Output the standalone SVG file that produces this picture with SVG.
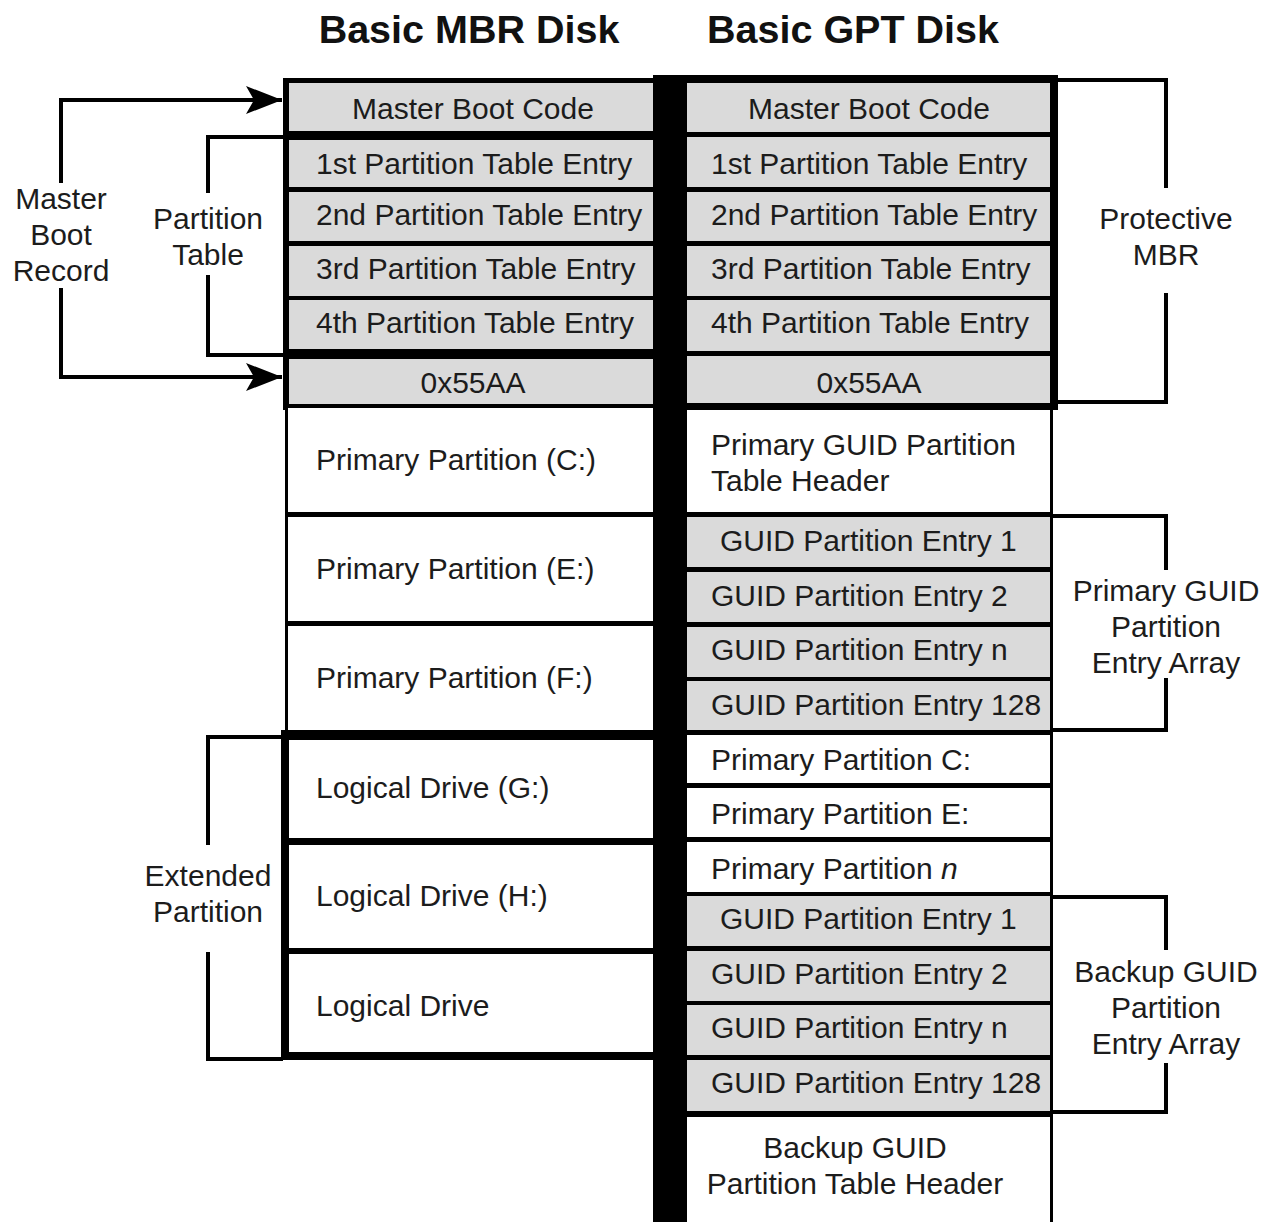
<svg xmlns="http://www.w3.org/2000/svg" width="1270" height="1222" viewBox="0 0 1270 1222">
<style>
.g{fill:#dadada}
.w{fill:#ffffff}
.k{fill:#000000}
.t{font-family:"Liberation Sans",Arial,Helvetica,sans-serif;font-size:30px;fill:#1c1c1c}
.c{text-anchor:middle}
.h{font-weight:bold;font-size:39.5px;fill:#111}
.br{fill:none;stroke:#000;stroke-width:4}
</style>
<defs>
<marker id="ah" markerUnits="userSpaceOnUse" viewBox="0 0 36 28" refX="36" refY="14" markerWidth="36" markerHeight="28" orient="auto">
<path d="M0,0 L36,14 L0,28 L8,14 Z" fill="#000"/>
</marker>
</defs>
<rect x="0" y="0" width="1270" height="1222" fill="#fff"/>

<g id="titles">
<text class="t h c" x="469" y="43">Basic MBR Disk</text>
<text class="t h c" x="853" y="43">Basic GPT Disk</text>
</g>

<g id="frames">
<rect class="k" x="283" y="78" width="372" height="332"/>
<rect class="k" x="285" y="404" width="370" height="332"/>
<rect class="k" x="281" y="730" width="374" height="330"/>
<rect class="k" x="653" y="75" width="33" height="1147"/>
<rect class="k" x="683" y="75" width="375" height="335"/>
<rect class="k" x="683" y="404" width="370" height="818"/>
</g>

<g id="mbr-master-boot-code"><rect class="g" x="289" y="83" width="364" height="48"/><text class="t c" x="473" y="119">Master Boot Code</text></g>
<g id="mbr-pte1"><rect class="g" x="289" y="140" width="364" height="47"/><text class="t" x="316" y="174">1st Partition Table Entry</text></g>
<g id="mbr-pte2"><rect class="g" x="289" y="192" width="364" height="49"/><text class="t" x="316" y="225">2nd Partition Table Entry</text></g>
<g id="mbr-pte3"><rect class="g" x="289" y="246" width="364" height="50"/><text class="t" x="316" y="279">3rd Partition Table Entry</text></g>
<g id="mbr-pte4"><rect class="g" x="289" y="300" width="364" height="49"/><text class="t" x="316" y="333">4th Partition Table Entry</text></g>
<g id="mbr-sig"><rect class="g" x="289" y="359" width="364" height="45"/><text class="t c" x="473" y="393">0x55AA</text></g>
<g id="mbr-primary-c"><rect class="w" x="288" y="408" width="365" height="104"/><text class="t" x="316" y="470">Primary Partition (C:)</text></g>
<g id="mbr-primary-e"><rect class="w" x="288" y="517" width="365" height="104"/><text class="t" x="316" y="579">Primary Partition (E:)</text></g>
<g id="mbr-primary-f"><rect class="w" x="288" y="626" width="365" height="104"/><text class="t" x="316" y="688">Primary Partition (F:)</text></g>
<g id="mbr-logical-g"><rect class="w" x="289" y="740" width="364" height="98"/><text class="t" x="316" y="798">Logical Drive (G:)</text></g>
<g id="mbr-logical-h"><rect class="w" x="289" y="845" width="364" height="103"/><text class="t" x="316" y="906">Logical Drive (H:)</text></g>
<g id="mbr-logical"><rect class="w" x="289" y="954" width="364" height="98"/><text class="t" x="316" y="1016">Logical Drive</text></g>

<g id="gpt-master-boot-code"><rect class="g" x="687" y="83" width="363" height="49"/><text class="t c" x="869" y="119">Master Boot Code</text></g>
<g id="gpt-pte1"><rect class="g" x="687" y="137" width="363" height="50"/><text class="t" x="711" y="174">1st Partition Table Entry</text></g>
<g id="gpt-pte2"><rect class="g" x="687" y="192" width="363" height="49"/><text class="t" x="711" y="225">2nd Partition Table Entry</text></g>
<g id="gpt-pte3"><rect class="g" x="687" y="246" width="363" height="50"/><text class="t" x="711" y="279">3rd Partition Table Entry</text></g>
<g id="gpt-pte4"><rect class="g" x="687" y="300" width="363" height="51"/><text class="t" x="711" y="333">4th Partition Table Entry</text></g>
<g id="gpt-sig"><rect class="g" x="687" y="356" width="363" height="47"/><text class="t c" x="869" y="393">0x55AA</text></g>
<g id="gpt-primary-header"><rect class="w" x="687" y="410" width="363" height="102"/><text class="t" x="711" y="455">Primary GUID Partition</text><text class="t" x="711" y="491">Table Header</text></g>
<g id="gpt-p-entry1"><rect class="g" x="687" y="517" width="363" height="50"/><text class="t" x="720" y="551">GUID Partition Entry 1</text></g>
<g id="gpt-p-entry2"><rect class="g" x="687" y="572" width="363" height="50"/><text class="t" x="711" y="606">GUID Partition Entry 2</text></g>
<g id="gpt-p-entryn"><rect class="g" x="687" y="627" width="363" height="50"/><text class="t" x="711" y="660">GUID Partition Entry n</text></g>
<g id="gpt-p-entry128"><rect class="g" x="687" y="681" width="363" height="49"/><text class="t" x="711" y="715">GUID Partition Entry 128</text></g>
<g id="gpt-primary-c"><rect class="w" x="687" y="735" width="363" height="48"/><text class="t" x="711" y="770">Primary Partition C:</text></g>
<g id="gpt-primary-e"><rect class="w" x="687" y="788" width="363" height="49"/><text class="t" x="711" y="824">Primary Partition E:</text></g>
<g id="gpt-primary-n"><rect class="w" x="687" y="842" width="363" height="50"/><text class="t" x="711" y="879">Primary Partition <tspan font-style="italic">n</tspan></text></g>
<g id="gpt-b-entry1"><rect class="g" x="687" y="896" width="363" height="50"/><text class="t" x="720" y="929">GUID Partition Entry 1</text></g>
<g id="gpt-b-entry2"><rect class="g" x="687" y="951" width="363" height="50"/><text class="t" x="711" y="984">GUID Partition Entry 2</text></g>
<g id="gpt-b-entryn"><rect class="g" x="687" y="1005" width="363" height="50"/><text class="t" x="711" y="1038">GUID Partition Entry n</text></g>
<g id="gpt-b-entry128"><rect class="g" x="687" y="1060" width="363" height="51"/><text class="t" x="711" y="1093">GUID Partition Entry 128</text></g>
<g id="gpt-backup-header"><rect class="w" x="687" y="1117" width="363" height="110"/><text class="t c" x="855" y="1158">Backup GUID</text><text class="t c" x="855" y="1194">Partition Table Header</text></g>

<g id="labels">
<text class="t c" x="61" y="209">Master</text>
<text class="t c" x="61" y="245">Boot</text>
<text class="t c" x="61" y="281">Record</text>
<text class="t c" x="208" y="229">Partition</text>
<text class="t c" x="208" y="265">Table</text>
<text class="t c" x="208" y="886">Extended</text>
<text class="t c" x="208" y="922">Partition</text>
<text class="t c" x="1166" y="229">Protective</text>
<text class="t c" x="1166" y="265">MBR</text>
<text class="t c" x="1166" y="601">Primary GUID</text>
<text class="t c" x="1166" y="637">Partition</text>
<text class="t c" x="1166" y="673">Entry Array</text>
<text class="t c" x="1166" y="982">Backup GUID</text>
<text class="t c" x="1166" y="1018">Partition</text>
<text class="t c" x="1166" y="1054">Entry Array</text>
</g>

<g id="connectors">
<path class="br" d="M61,183 V100 H282" marker-end="url(#ah)"/>
<path class="br" d="M61,288 V377 H282" marker-end="url(#ah)"/>
<path class="br" d="M285,137 H208 V193"/>
<path class="br" d="M208,275 V355 H285"/>
<path class="br" d="M283,737 H208 V845"/>
<path class="br" d="M208,952 V1059 H283"/>
<path class="br" d="M1056,80 H1166 V188"/>
<path class="br" d="M1166,293 V402 H1056"/>
<path class="br" d="M1052,516 H1166 V570"/>
<path class="br" d="M1166,678 V730 H1052"/>
<path class="br" d="M1052,897 H1166 V950"/>
<path class="br" d="M1166,1063 V1112 H1052"/>
</g>
</svg>
